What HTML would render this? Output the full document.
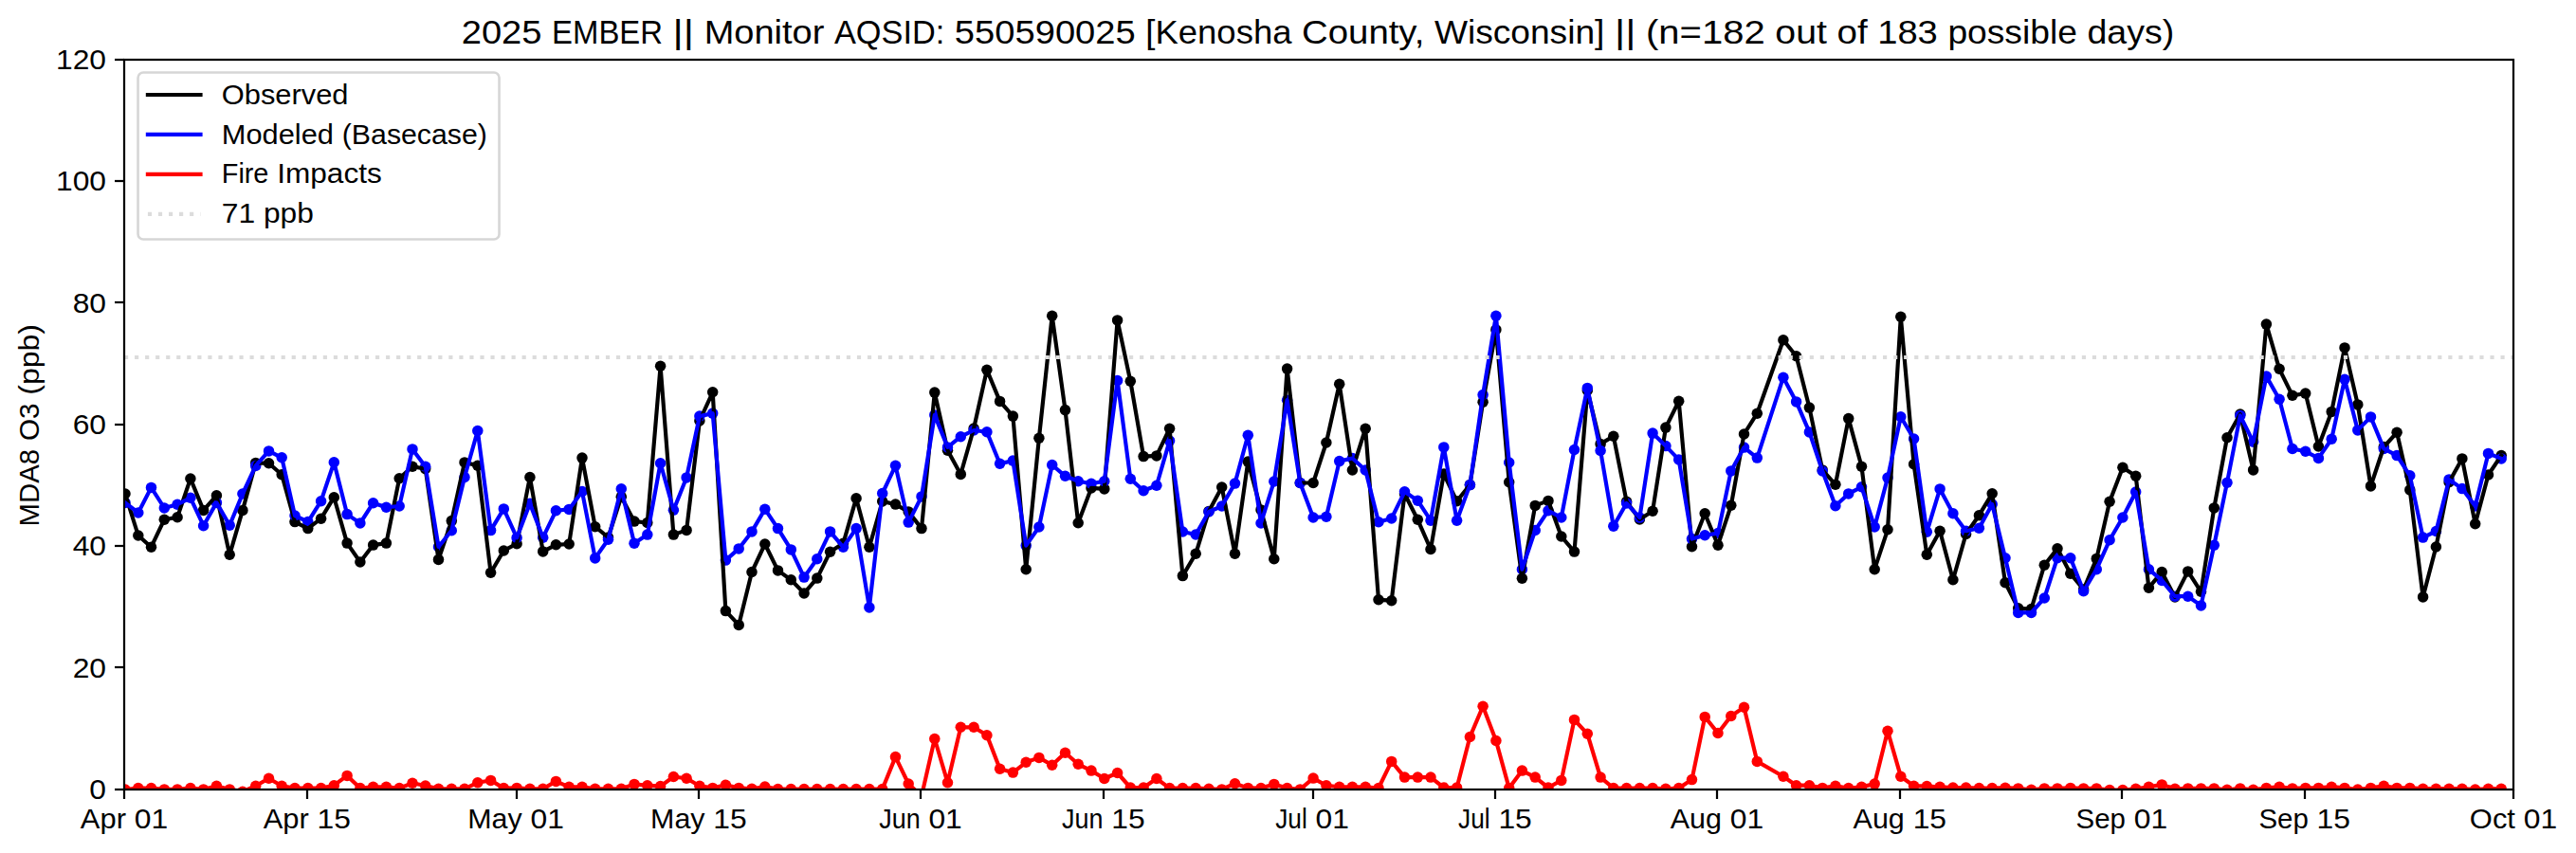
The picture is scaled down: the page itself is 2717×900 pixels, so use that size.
<!DOCTYPE html>
<html><head><meta charset="utf-8"><title>2025 EMBER Monitor 550590025</title>
<style>
html,body{margin:0;padding:0;background:#fff;}
body{width:2717px;height:900px;overflow:hidden;}
svg{display:block;font-family:"Liberation Sans", sans-serif;}
</style></head><body>
<svg width="2717" height="900" viewBox="0 0 2717 900">
<rect x="0" y="0" width="2717" height="900" fill="#ffffff"/>
<defs><clipPath id="ax"><rect x="131.0" y="63.0" width="2520.0" height="770.0"/></clipPath></defs>
<text x="486.70" y="46.00" font-size="35.4" textLength="84.82" lengthAdjust="spacingAndGlyphs">2025</text><text x="582.12" y="46.00" font-size="35.4" textLength="116.90" lengthAdjust="spacingAndGlyphs">EMBER</text><text x="709.61" y="46.00" font-size="35.4" textLength="22.46" lengthAdjust="spacingAndGlyphs">||</text><text x="742.67" y="46.00" font-size="35.4" textLength="126.70" lengthAdjust="spacingAndGlyphs">Monitor</text><text x="879.96" y="46.00" font-size="35.4" textLength="116.33" lengthAdjust="spacingAndGlyphs">AQSID:</text><text x="1006.88" y="46.00" font-size="35.4" textLength="190.85" lengthAdjust="spacingAndGlyphs">550590025</text><text x="1208.33" y="46.00" font-size="35.4" textLength="154.14" lengthAdjust="spacingAndGlyphs">[Kenosha</text><text x="1373.06" y="46.00" font-size="35.4" textLength="129.30" lengthAdjust="spacingAndGlyphs">County,</text><text x="1512.95" y="46.00" font-size="35.4" textLength="179.44" lengthAdjust="spacingAndGlyphs">Wisconsin]</text><text x="1702.99" y="46.00" font-size="35.4" textLength="22.46" lengthAdjust="spacingAndGlyphs">||</text><text x="1736.05" y="46.00" font-size="35.4" textLength="125.67" lengthAdjust="spacingAndGlyphs">(n=182</text><text x="1872.31" y="46.00" font-size="35.4" textLength="54.58" lengthAdjust="spacingAndGlyphs">out</text><text x="1937.49" y="46.00" font-size="35.4" textLength="32.13" lengthAdjust="spacingAndGlyphs">of</text><text x="1980.21" y="46.00" font-size="35.4" textLength="63.62" lengthAdjust="spacingAndGlyphs">183</text><text x="2054.42" y="46.00" font-size="35.4" textLength="136.46" lengthAdjust="spacingAndGlyphs">possible</text><text x="2201.48" y="46.00" font-size="35.4" textLength="91.67" lengthAdjust="spacingAndGlyphs">days)</text>
<g clip-path="url(#ax)">
<g fill="#000000"><circle cx="132.0" cy="521.0" r="5.75"/><circle cx="145.8" cy="565.0" r="5.75"/><circle cx="159.5" cy="577.2" r="5.75"/><circle cx="173.3" cy="548.2" r="5.75"/><circle cx="187.1" cy="545.7" r="5.75"/><circle cx="200.9" cy="505.0" r="5.75"/><circle cx="214.6" cy="538.4" r="5.75"/><circle cx="228.4" cy="522.8" r="5.75"/><circle cx="242.2" cy="585.3" r="5.75"/><circle cx="255.9" cy="538.4" r="5.75"/><circle cx="269.7" cy="488.4" r="5.75"/><circle cx="283.5" cy="488.8" r="5.75"/><circle cx="297.2" cy="500.8" r="5.75"/><circle cx="311.0" cy="550.6" r="5.75"/><circle cx="324.8" cy="557.6" r="5.75"/><circle cx="338.6" cy="547.2" r="5.75"/><circle cx="352.3" cy="524.7" r="5.75"/><circle cx="366.1" cy="573.1" r="5.75"/><circle cx="379.9" cy="593.0" r="5.75"/><circle cx="393.6" cy="575.1" r="5.75"/><circle cx="407.4" cy="573.1" r="5.75"/><circle cx="421.2" cy="504.7" r="5.75"/><circle cx="435.0" cy="492.3" r="5.75"/><circle cx="448.7" cy="494.6" r="5.75"/><circle cx="462.5" cy="590.4" r="5.75"/><circle cx="476.3" cy="549.6" r="5.75"/><circle cx="490.0" cy="487.9" r="5.75"/><circle cx="503.8" cy="491.2" r="5.75"/><circle cx="517.6" cy="604.2" r="5.75"/><circle cx="531.3" cy="581.0" r="5.75"/><circle cx="545.1" cy="573.7" r="5.75"/><circle cx="558.9" cy="503.5" r="5.75"/><circle cx="572.7" cy="581.9" r="5.75"/><circle cx="586.4" cy="574.8" r="5.75"/><circle cx="600.2" cy="574.0" r="5.75"/><circle cx="614.0" cy="483.1" r="5.75"/><circle cx="627.7" cy="555.7" r="5.75"/><circle cx="641.5" cy="567.0" r="5.75"/><circle cx="655.3" cy="524.2" r="5.75"/><circle cx="669.0" cy="550.1" r="5.75"/><circle cx="682.8" cy="551.5" r="5.75"/><circle cx="696.6" cy="386.3" r="5.75"/><circle cx="710.4" cy="564.1" r="5.75"/><circle cx="724.1" cy="559.4" r="5.75"/><circle cx="737.9" cy="444.0" r="5.75"/><circle cx="751.7" cy="413.8" r="5.75"/><circle cx="765.4" cy="644.6" r="5.75"/><circle cx="779.2" cy="659.4" r="5.75"/><circle cx="793.0" cy="603.5" r="5.75"/><circle cx="806.8" cy="574.0" r="5.75"/><circle cx="820.5" cy="601.9" r="5.75"/><circle cx="834.3" cy="611.8" r="5.75"/><circle cx="848.1" cy="625.9" r="5.75"/><circle cx="861.8" cy="610.1" r="5.75"/><circle cx="875.6" cy="582.2" r="5.75"/><circle cx="889.4" cy="573.3" r="5.75"/><circle cx="903.1" cy="525.7" r="5.75"/><circle cx="916.9" cy="577.3" r="5.75"/><circle cx="930.7" cy="529.0" r="5.75"/><circle cx="944.5" cy="532.1" r="5.75"/><circle cx="958.2" cy="539.9" r="5.75"/><circle cx="972.0" cy="557.6" r="5.75"/><circle cx="985.8" cy="414.1" r="5.75"/><circle cx="999.5" cy="475.3" r="5.75"/><circle cx="1013.3" cy="500.4" r="5.75"/><circle cx="1027.1" cy="452.0" r="5.75"/><circle cx="1040.9" cy="390.3" r="5.75"/><circle cx="1054.6" cy="423.4" r="5.75"/><circle cx="1068.4" cy="439.1" r="5.75"/><circle cx="1082.2" cy="600.7" r="5.75"/><circle cx="1095.9" cy="462.3" r="5.75"/><circle cx="1109.7" cy="333.2" r="5.75"/><circle cx="1123.5" cy="432.6" r="5.75"/><circle cx="1137.2" cy="551.7" r="5.75"/><circle cx="1151.0" cy="514.9" r="5.75"/><circle cx="1164.8" cy="515.9" r="5.75"/><circle cx="1178.6" cy="337.9" r="5.75"/><circle cx="1192.3" cy="402.2" r="5.75"/><circle cx="1206.1" cy="481.6" r="5.75"/><circle cx="1219.9" cy="480.9" r="5.75"/><circle cx="1233.6" cy="452.2" r="5.75"/><circle cx="1247.4" cy="607.6" r="5.75"/><circle cx="1261.2" cy="584.3" r="5.75"/><circle cx="1275.0" cy="539.4" r="5.75"/><circle cx="1288.7" cy="514.0" r="5.75"/><circle cx="1302.5" cy="584.3" r="5.75"/><circle cx="1316.3" cy="487.1" r="5.75"/><circle cx="1330.0" cy="537.9" r="5.75"/><circle cx="1343.8" cy="589.7" r="5.75"/><circle cx="1357.6" cy="389.1" r="5.75"/><circle cx="1371.3" cy="509.5" r="5.75"/><circle cx="1385.1" cy="509.5" r="5.75"/><circle cx="1398.9" cy="467.0" r="5.75"/><circle cx="1412.7" cy="405.2" r="5.75"/><circle cx="1426.4" cy="496.0" r="5.75"/><circle cx="1440.2" cy="452.2" r="5.75"/><circle cx="1454.0" cy="632.8" r="5.75"/><circle cx="1467.7" cy="633.7" r="5.75"/><circle cx="1481.5" cy="521.0" r="5.75"/><circle cx="1495.3" cy="548.3" r="5.75"/><circle cx="1509.0" cy="579.5" r="5.75"/><circle cx="1522.8" cy="500.0" r="5.75"/><circle cx="1536.6" cy="528.8" r="5.75"/><circle cx="1550.4" cy="511.6" r="5.75"/><circle cx="1564.1" cy="424.2" r="5.75"/><circle cx="1577.9" cy="347.9" r="5.75"/><circle cx="1591.7" cy="508.8" r="5.75"/><circle cx="1605.4" cy="610.3" r="5.75"/><circle cx="1619.2" cy="533.4" r="5.75"/><circle cx="1633.0" cy="528.4" r="5.75"/><circle cx="1646.8" cy="566.0" r="5.75"/><circle cx="1660.5" cy="582.1" r="5.75"/><circle cx="1674.3" cy="412.0" r="5.75"/><circle cx="1688.1" cy="468.4" r="5.75"/><circle cx="1701.8" cy="460.2" r="5.75"/><circle cx="1715.6" cy="529.2" r="5.75"/><circle cx="1729.4" cy="547.9" r="5.75"/><circle cx="1743.1" cy="539.3" r="5.75"/><circle cx="1756.9" cy="451.1" r="5.75"/><circle cx="1770.7" cy="423.3" r="5.75"/><circle cx="1784.5" cy="576.7" r="5.75"/><circle cx="1798.2" cy="541.7" r="5.75"/><circle cx="1812.0" cy="575.2" r="5.75"/><circle cx="1825.8" cy="533.3" r="5.75"/><circle cx="1839.5" cy="458.0" r="5.75"/><circle cx="1853.3" cy="436.2" r="5.75"/><circle cx="1880.9" cy="358.8" r="5.75"/><circle cx="1894.6" cy="375.7" r="5.75"/><circle cx="1908.4" cy="430.1" r="5.75"/><circle cx="1922.2" cy="495.9" r="5.75"/><circle cx="1935.9" cy="511.3" r="5.75"/><circle cx="1949.7" cy="441.6" r="5.75"/><circle cx="1963.5" cy="492.3" r="5.75"/><circle cx="1977.2" cy="600.7" r="5.75"/><circle cx="1991.0" cy="558.8" r="5.75"/><circle cx="2004.8" cy="334.3" r="5.75"/><circle cx="2018.6" cy="489.8" r="5.75"/><circle cx="2032.3" cy="585.3" r="5.75"/><circle cx="2046.1" cy="560.3" r="5.75"/><circle cx="2059.9" cy="611.7" r="5.75"/><circle cx="2073.6" cy="563.5" r="5.75"/><circle cx="2087.4" cy="543.7" r="5.75"/><circle cx="2101.2" cy="520.8" r="5.75"/><circle cx="2115.0" cy="614.8" r="5.75"/><circle cx="2128.7" cy="641.8" r="5.75"/><circle cx="2142.5" cy="642.5" r="5.75"/><circle cx="2156.3" cy="596.2" r="5.75"/><circle cx="2170.0" cy="578.8" r="5.75"/><circle cx="2183.8" cy="605.2" r="5.75"/><circle cx="2197.6" cy="622.0" r="5.75"/><circle cx="2211.3" cy="589.4" r="5.75"/><circle cx="2225.1" cy="529.3" r="5.75"/><circle cx="2238.9" cy="493.3" r="5.75"/><circle cx="2252.7" cy="502.3" r="5.75"/><circle cx="2266.4" cy="620.2" r="5.75"/><circle cx="2280.2" cy="603.6" r="5.75"/><circle cx="2294.0" cy="629.9" r="5.75"/><circle cx="2307.7" cy="602.9" r="5.75"/><circle cx="2321.5" cy="624.3" r="5.75"/><circle cx="2335.3" cy="535.9" r="5.75"/><circle cx="2349.0" cy="461.7" r="5.75"/><circle cx="2362.8" cy="437.0" r="5.75"/><circle cx="2376.6" cy="495.9" r="5.75"/><circle cx="2390.4" cy="342.1" r="5.75"/><circle cx="2404.1" cy="389.3" r="5.75"/><circle cx="2417.9" cy="417.3" r="5.75"/><circle cx="2431.7" cy="415.1" r="5.75"/><circle cx="2445.4" cy="471.0" r="5.75"/><circle cx="2459.2" cy="434.4" r="5.75"/><circle cx="2473.0" cy="366.9" r="5.75"/><circle cx="2486.8" cy="426.9" r="5.75"/><circle cx="2500.5" cy="512.9" r="5.75"/><circle cx="2514.3" cy="471.5" r="5.75"/><circle cx="2528.1" cy="456.3" r="5.75"/><circle cx="2541.8" cy="516.9" r="5.75"/><circle cx="2555.6" cy="629.9" r="5.75"/><circle cx="2569.4" cy="577.0" r="5.75"/><circle cx="2583.1" cy="508.7" r="5.75"/><circle cx="2596.9" cy="483.9" r="5.75"/><circle cx="2610.7" cy="552.7" r="5.75"/><circle cx="2624.5" cy="501.0" r="5.75"/><circle cx="2638.2" cy="480.6" r="5.75"/></g>
<g fill="#0000ff"><circle cx="132.0" cy="530.4" r="5.75"/><circle cx="145.8" cy="541.0" r="5.75"/><circle cx="159.5" cy="514.4" r="5.75"/><circle cx="173.3" cy="536.0" r="5.75"/><circle cx="187.1" cy="532.2" r="5.75"/><circle cx="200.9" cy="525.3" r="5.75"/><circle cx="214.6" cy="554.7" r="5.75"/><circle cx="228.4" cy="530.4" r="5.75"/><circle cx="242.2" cy="554.2" r="5.75"/><circle cx="255.9" cy="521.0" r="5.75"/><circle cx="269.7" cy="491.4" r="5.75"/><circle cx="283.5" cy="475.9" r="5.75"/><circle cx="297.2" cy="482.8" r="5.75"/><circle cx="311.0" cy="544.0" r="5.75"/><circle cx="324.8" cy="550.6" r="5.75"/><circle cx="338.6" cy="528.7" r="5.75"/><circle cx="352.3" cy="487.8" r="5.75"/><circle cx="366.1" cy="542.6" r="5.75"/><circle cx="379.9" cy="552.0" r="5.75"/><circle cx="393.6" cy="530.7" r="5.75"/><circle cx="407.4" cy="535.3" r="5.75"/><circle cx="421.2" cy="534.0" r="5.75"/><circle cx="435.0" cy="473.9" r="5.75"/><circle cx="448.7" cy="492.3" r="5.75"/><circle cx="462.5" cy="577.0" r="5.75"/><circle cx="476.3" cy="559.8" r="5.75"/><circle cx="490.0" cy="503.5" r="5.75"/><circle cx="503.8" cy="454.5" r="5.75"/><circle cx="517.6" cy="559.6" r="5.75"/><circle cx="531.3" cy="536.9" r="5.75"/><circle cx="545.1" cy="567.4" r="5.75"/><circle cx="558.9" cy="531.3" r="5.75"/><circle cx="572.7" cy="567.2" r="5.75"/><circle cx="586.4" cy="538.8" r="5.75"/><circle cx="600.2" cy="537.4" r="5.75"/><circle cx="614.0" cy="518.6" r="5.75"/><circle cx="627.7" cy="588.9" r="5.75"/><circle cx="641.5" cy="569.2" r="5.75"/><circle cx="655.3" cy="515.8" r="5.75"/><circle cx="669.0" cy="573.2" r="5.75"/><circle cx="682.8" cy="564.1" r="5.75"/><circle cx="696.6" cy="488.7" r="5.75"/><circle cx="710.4" cy="538.3" r="5.75"/><circle cx="724.1" cy="503.9" r="5.75"/><circle cx="737.9" cy="439.1" r="5.75"/><circle cx="751.7" cy="436.1" r="5.75"/><circle cx="765.4" cy="591.1" r="5.75"/><circle cx="779.2" cy="578.9" r="5.75"/><circle cx="793.0" cy="560.9" r="5.75"/><circle cx="806.8" cy="537.2" r="5.75"/><circle cx="820.5" cy="557.6" r="5.75"/><circle cx="834.3" cy="579.9" r="5.75"/><circle cx="848.1" cy="609.1" r="5.75"/><circle cx="861.8" cy="589.8" r="5.75"/><circle cx="875.6" cy="560.9" r="5.75"/><circle cx="889.4" cy="577.3" r="5.75"/><circle cx="903.1" cy="557.6" r="5.75"/><circle cx="916.9" cy="640.9" r="5.75"/><circle cx="930.7" cy="520.5" r="5.75"/><circle cx="944.5" cy="491.3" r="5.75"/><circle cx="958.2" cy="551.1" r="5.75"/><circle cx="972.0" cy="523.9" r="5.75"/><circle cx="985.8" cy="437.9" r="5.75"/><circle cx="999.5" cy="471.9" r="5.75"/><circle cx="1013.3" cy="460.7" r="5.75"/><circle cx="1027.1" cy="454.0" r="5.75"/><circle cx="1040.9" cy="455.8" r="5.75"/><circle cx="1054.6" cy="489.3" r="5.75"/><circle cx="1068.4" cy="486.1" r="5.75"/><circle cx="1082.2" cy="575.6" r="5.75"/><circle cx="1095.9" cy="556.0" r="5.75"/><circle cx="1109.7" cy="490.5" r="5.75"/><circle cx="1123.5" cy="502.3" r="5.75"/><circle cx="1137.2" cy="507.7" r="5.75"/><circle cx="1151.0" cy="510.2" r="5.75"/><circle cx="1164.8" cy="507.7" r="5.75"/><circle cx="1178.6" cy="401.5" r="5.75"/><circle cx="1192.3" cy="505.2" r="5.75"/><circle cx="1206.1" cy="517.7" r="5.75"/><circle cx="1219.9" cy="512.3" r="5.75"/><circle cx="1233.6" cy="465.1" r="5.75"/><circle cx="1247.4" cy="561.0" r="5.75"/><circle cx="1261.2" cy="564.0" r="5.75"/><circle cx="1275.0" cy="540.0" r="5.75"/><circle cx="1288.7" cy="534.0" r="5.75"/><circle cx="1302.5" cy="510.1" r="5.75"/><circle cx="1316.3" cy="459.3" r="5.75"/><circle cx="1330.0" cy="552.0" r="5.75"/><circle cx="1343.8" cy="508.0" r="5.75"/><circle cx="1357.6" cy="422.2" r="5.75"/><circle cx="1371.3" cy="509.5" r="5.75"/><circle cx="1385.1" cy="546.0" r="5.75"/><circle cx="1398.9" cy="545.2" r="5.75"/><circle cx="1412.7" cy="486.6" r="5.75"/><circle cx="1426.4" cy="483.5" r="5.75"/><circle cx="1440.2" cy="496.0" r="5.75"/><circle cx="1454.0" cy="550.8" r="5.75"/><circle cx="1467.7" cy="547.0" r="5.75"/><circle cx="1481.5" cy="518.8" r="5.75"/><circle cx="1495.3" cy="528.2" r="5.75"/><circle cx="1509.0" cy="549.2" r="5.75"/><circle cx="1522.8" cy="471.9" r="5.75"/><circle cx="1536.6" cy="549.2" r="5.75"/><circle cx="1550.4" cy="511.6" r="5.75"/><circle cx="1564.1" cy="416.6" r="5.75"/><circle cx="1577.9" cy="333.2" r="5.75"/><circle cx="1591.7" cy="488.0" r="5.75"/><circle cx="1605.4" cy="600.7" r="5.75"/><circle cx="1619.2" cy="559.5" r="5.75"/><circle cx="1633.0" cy="538.8" r="5.75"/><circle cx="1646.8" cy="546.0" r="5.75"/><circle cx="1660.5" cy="474.5" r="5.75"/><circle cx="1674.3" cy="409.4" r="5.75"/><circle cx="1688.1" cy="475.5" r="5.75"/><circle cx="1701.8" cy="555.3" r="5.75"/><circle cx="1715.6" cy="531.0" r="5.75"/><circle cx="1729.4" cy="546.1" r="5.75"/><circle cx="1743.1" cy="457.1" r="5.75"/><circle cx="1756.9" cy="470.6" r="5.75"/><circle cx="1770.7" cy="484.9" r="5.75"/><circle cx="1784.5" cy="568.6" r="5.75"/><circle cx="1798.2" cy="564.7" r="5.75"/><circle cx="1812.0" cy="562.6" r="5.75"/><circle cx="1825.8" cy="496.9" r="5.75"/><circle cx="1839.5" cy="472.1" r="5.75"/><circle cx="1853.3" cy="483.1" r="5.75"/><circle cx="1880.9" cy="398.2" r="5.75"/><circle cx="1894.6" cy="423.9" r="5.75"/><circle cx="1908.4" cy="455.9" r="5.75"/><circle cx="1922.2" cy="497.0" r="5.75"/><circle cx="1935.9" cy="533.8" r="5.75"/><circle cx="1949.7" cy="520.9" r="5.75"/><circle cx="1963.5" cy="513.8" r="5.75"/><circle cx="1977.2" cy="556.0" r="5.75"/><circle cx="1991.0" cy="504.1" r="5.75"/><circle cx="2004.8" cy="439.8" r="5.75"/><circle cx="2018.6" cy="463.0" r="5.75"/><circle cx="2032.3" cy="561.3" r="5.75"/><circle cx="2046.1" cy="515.9" r="5.75"/><circle cx="2059.9" cy="541.7" r="5.75"/><circle cx="2073.6" cy="560.2" r="5.75"/><circle cx="2087.4" cy="557.2" r="5.75"/><circle cx="2101.2" cy="532.0" r="5.75"/><circle cx="2115.0" cy="588.7" r="5.75"/><circle cx="2128.7" cy="646.4" r="5.75"/><circle cx="2142.5" cy="646.4" r="5.75"/><circle cx="2156.3" cy="631.0" r="5.75"/><circle cx="2170.0" cy="588.7" r="5.75"/><circle cx="2183.8" cy="588.7" r="5.75"/><circle cx="2197.6" cy="623.8" r="5.75"/><circle cx="2211.3" cy="600.7" r="5.75"/><circle cx="2225.1" cy="569.8" r="5.75"/><circle cx="2238.9" cy="546.0" r="5.75"/><circle cx="2252.7" cy="519.0" r="5.75"/><circle cx="2266.4" cy="600.7" r="5.75"/><circle cx="2280.2" cy="612.4" r="5.75"/><circle cx="2294.0" cy="629.2" r="5.75"/><circle cx="2307.7" cy="629.2" r="5.75"/><circle cx="2321.5" cy="638.9" r="5.75"/><circle cx="2335.3" cy="575.2" r="5.75"/><circle cx="2349.0" cy="509.2" r="5.75"/><circle cx="2362.8" cy="438.4" r="5.75"/><circle cx="2376.6" cy="466.3" r="5.75"/><circle cx="2390.4" cy="397.1" r="5.75"/><circle cx="2404.1" cy="421.3" r="5.75"/><circle cx="2417.9" cy="473.5" r="5.75"/><circle cx="2431.7" cy="476.3" r="5.75"/><circle cx="2445.4" cy="483.4" r="5.75"/><circle cx="2459.2" cy="463.2" r="5.75"/><circle cx="2473.0" cy="400.2" r="5.75"/><circle cx="2486.8" cy="453.9" r="5.75"/><circle cx="2500.5" cy="439.9" r="5.75"/><circle cx="2514.3" cy="473.4" r="5.75"/><circle cx="2528.1" cy="480.6" r="5.75"/><circle cx="2541.8" cy="501.8" r="5.75"/><circle cx="2555.6" cy="567.1" r="5.75"/><circle cx="2569.4" cy="560.5" r="5.75"/><circle cx="2583.1" cy="505.9" r="5.75"/><circle cx="2596.9" cy="515.6" r="5.75"/><circle cx="2610.7" cy="534.0" r="5.75"/><circle cx="2624.5" cy="478.4" r="5.75"/><circle cx="2638.2" cy="483.9" r="5.75"/></g>
<g fill="#ff0000"><circle cx="132.0" cy="833.0" r="5.75"/><circle cx="145.8" cy="831.6" r="5.75"/><circle cx="159.5" cy="831.6" r="5.75"/><circle cx="173.3" cy="832.9" r="5.75"/><circle cx="187.1" cy="832.9" r="5.75"/><circle cx="200.9" cy="831.6" r="5.75"/><circle cx="214.6" cy="832.9" r="5.75"/><circle cx="228.4" cy="829.2" r="5.75"/><circle cx="242.2" cy="832.9" r="5.75"/><circle cx="255.9" cy="835.2" r="5.75"/><circle cx="269.7" cy="829.2" r="5.75"/><circle cx="283.5" cy="821.3" r="5.75"/><circle cx="297.2" cy="829.2" r="5.75"/><circle cx="311.0" cy="831.6" r="5.75"/><circle cx="324.8" cy="831.6" r="5.75"/><circle cx="338.6" cy="831.6" r="5.75"/><circle cx="352.3" cy="828.7" r="5.75"/><circle cx="366.1" cy="818.4" r="5.75"/><circle cx="379.9" cy="831.6" r="5.75"/><circle cx="393.6" cy="830.3" r="5.75"/><circle cx="407.4" cy="830.3" r="5.75"/><circle cx="421.2" cy="831.6" r="5.75"/><circle cx="435.0" cy="826.3" r="5.75"/><circle cx="448.7" cy="829.0" r="5.75"/><circle cx="462.5" cy="832.3" r="5.75"/><circle cx="476.3" cy="832.3" r="5.75"/><circle cx="490.0" cy="832.3" r="5.75"/><circle cx="503.8" cy="825.7" r="5.75"/><circle cx="517.6" cy="823.4" r="5.75"/><circle cx="531.3" cy="831.6" r="5.75"/><circle cx="545.1" cy="831.4" r="5.75"/><circle cx="558.9" cy="832.3" r="5.75"/><circle cx="572.7" cy="832.3" r="5.75"/><circle cx="586.4" cy="824.4" r="5.75"/><circle cx="600.2" cy="830.3" r="5.75"/><circle cx="614.0" cy="830.3" r="5.75"/><circle cx="627.7" cy="832.3" r="5.75"/><circle cx="641.5" cy="832.3" r="5.75"/><circle cx="655.3" cy="832.3" r="5.75"/><circle cx="669.0" cy="827.4" r="5.75"/><circle cx="682.8" cy="828.7" r="5.75"/><circle cx="696.6" cy="829.6" r="5.75"/><circle cx="710.4" cy="819.5" r="5.75"/><circle cx="724.1" cy="821.3" r="5.75"/><circle cx="737.9" cy="829.2" r="5.75"/><circle cx="751.7" cy="831.4" r="5.75"/><circle cx="765.4" cy="828.3" r="5.75"/><circle cx="779.2" cy="831.4" r="5.75"/><circle cx="793.0" cy="832.3" r="5.75"/><circle cx="806.8" cy="830.0" r="5.75"/><circle cx="820.5" cy="832.5" r="5.75"/><circle cx="834.3" cy="832.5" r="5.75"/><circle cx="848.1" cy="832.5" r="5.75"/><circle cx="861.8" cy="832.5" r="5.75"/><circle cx="875.6" cy="832.5" r="5.75"/><circle cx="889.4" cy="832.5" r="5.75"/><circle cx="903.1" cy="832.5" r="5.75"/><circle cx="916.9" cy="832.5" r="5.75"/><circle cx="930.7" cy="832.5" r="5.75"/><circle cx="944.5" cy="798.6" r="5.75"/><circle cx="958.2" cy="827.0" r="5.75"/><circle cx="972.0" cy="840.0" r="5.75"/><circle cx="985.8" cy="779.5" r="5.75"/><circle cx="999.5" cy="825.7" r="5.75"/><circle cx="1013.3" cy="767.3" r="5.75"/><circle cx="1027.1" cy="767.3" r="5.75"/><circle cx="1040.9" cy="775.7" r="5.75"/><circle cx="1054.6" cy="811.3" r="5.75"/><circle cx="1068.4" cy="815.1" r="5.75"/><circle cx="1082.2" cy="804.3" r="5.75"/><circle cx="1095.9" cy="799.4" r="5.75"/><circle cx="1109.7" cy="807.2" r="5.75"/><circle cx="1123.5" cy="794.2" r="5.75"/><circle cx="1137.2" cy="806.3" r="5.75"/><circle cx="1151.0" cy="813.1" r="5.75"/><circle cx="1164.8" cy="821.5" r="5.75"/><circle cx="1178.6" cy="815.5" r="5.75"/><circle cx="1192.3" cy="831.0" r="5.75"/><circle cx="1206.1" cy="831.0" r="5.75"/><circle cx="1219.9" cy="821.5" r="5.75"/><circle cx="1233.6" cy="831.6" r="5.75"/><circle cx="1247.4" cy="831.6" r="5.75"/><circle cx="1261.2" cy="831.6" r="5.75"/><circle cx="1275.0" cy="832.3" r="5.75"/><circle cx="1288.7" cy="832.9" r="5.75"/><circle cx="1302.5" cy="826.7" r="5.75"/><circle cx="1316.3" cy="831.4" r="5.75"/><circle cx="1330.0" cy="831.6" r="5.75"/><circle cx="1343.8" cy="827.4" r="5.75"/><circle cx="1357.6" cy="831.6" r="5.75"/><circle cx="1371.3" cy="832.9" r="5.75"/><circle cx="1385.1" cy="821.1" r="5.75"/><circle cx="1398.9" cy="828.7" r="5.75"/><circle cx="1412.7" cy="830.3" r="5.75"/><circle cx="1426.4" cy="830.3" r="5.75"/><circle cx="1440.2" cy="830.3" r="5.75"/><circle cx="1454.0" cy="831.5" r="5.75"/><circle cx="1467.7" cy="803.4" r="5.75"/><circle cx="1481.5" cy="820.1" r="5.75"/><circle cx="1495.3" cy="820.1" r="5.75"/><circle cx="1509.0" cy="820.1" r="5.75"/><circle cx="1522.8" cy="831.0" r="5.75"/><circle cx="1536.6" cy="831.0" r="5.75"/><circle cx="1550.4" cy="777.5" r="5.75"/><circle cx="1564.1" cy="745.3" r="5.75"/><circle cx="1577.9" cy="781.5" r="5.75"/><circle cx="1591.7" cy="831.6" r="5.75"/><circle cx="1605.4" cy="813.1" r="5.75"/><circle cx="1619.2" cy="820.1" r="5.75"/><circle cx="1633.0" cy="831.0" r="5.75"/><circle cx="1646.8" cy="823.4" r="5.75"/><circle cx="1660.5" cy="759.4" r="5.75"/><circle cx="1674.3" cy="774.3" r="5.75"/><circle cx="1688.1" cy="820.1" r="5.75"/><circle cx="1701.8" cy="831.6" r="5.75"/><circle cx="1715.6" cy="831.6" r="5.75"/><circle cx="1729.4" cy="831.6" r="5.75"/><circle cx="1743.1" cy="831.6" r="5.75"/><circle cx="1756.9" cy="832.3" r="5.75"/><circle cx="1770.7" cy="831.6" r="5.75"/><circle cx="1784.5" cy="822.6" r="5.75"/><circle cx="1798.2" cy="756.4" r="5.75"/><circle cx="1812.0" cy="773.5" r="5.75"/><circle cx="1825.8" cy="755.5" r="5.75"/><circle cx="1839.5" cy="746.2" r="5.75"/><circle cx="1853.3" cy="803.4" r="5.75"/><circle cx="1880.9" cy="819.2" r="5.75"/><circle cx="1894.6" cy="828.7" r="5.75"/><circle cx="1908.4" cy="828.7" r="5.75"/><circle cx="1922.2" cy="831.4" r="5.75"/><circle cx="1935.9" cy="829.2" r="5.75"/><circle cx="1949.7" cy="831.6" r="5.75"/><circle cx="1963.5" cy="830.3" r="5.75"/><circle cx="1977.2" cy="827.1" r="5.75"/><circle cx="1991.0" cy="771.3" r="5.75"/><circle cx="2004.8" cy="819.2" r="5.75"/><circle cx="2018.6" cy="829.2" r="5.75"/><circle cx="2032.3" cy="829.6" r="5.75"/><circle cx="2046.1" cy="830.3" r="5.75"/><circle cx="2059.9" cy="831.0" r="5.75"/><circle cx="2073.6" cy="831.0" r="5.75"/><circle cx="2087.4" cy="831.6" r="5.75"/><circle cx="2101.2" cy="831.6" r="5.75"/><circle cx="2115.0" cy="831.2" r="5.75"/><circle cx="2128.7" cy="831.9" r="5.75"/><circle cx="2142.5" cy="833.2" r="5.75"/><circle cx="2156.3" cy="831.9" r="5.75"/><circle cx="2170.0" cy="831.9" r="5.75"/><circle cx="2183.8" cy="831.4" r="5.75"/><circle cx="2197.6" cy="831.9" r="5.75"/><circle cx="2211.3" cy="831.9" r="5.75"/><circle cx="2225.1" cy="833.6" r="5.75"/><circle cx="2238.9" cy="833.6" r="5.75"/><circle cx="2252.7" cy="832.3" r="5.75"/><circle cx="2266.4" cy="830.3" r="5.75"/><circle cx="2280.2" cy="827.9" r="5.75"/><circle cx="2294.0" cy="832.3" r="5.75"/><circle cx="2307.7" cy="831.9" r="5.75"/><circle cx="2321.5" cy="831.9" r="5.75"/><circle cx="2335.3" cy="831.9" r="5.75"/><circle cx="2349.0" cy="833.2" r="5.75"/><circle cx="2362.8" cy="831.9" r="5.75"/><circle cx="2376.6" cy="833.2" r="5.75"/><circle cx="2390.4" cy="831.4" r="5.75"/><circle cx="2404.1" cy="830.3" r="5.75"/><circle cx="2417.9" cy="831.9" r="5.75"/><circle cx="2431.7" cy="831.4" r="5.75"/><circle cx="2445.4" cy="831.4" r="5.75"/><circle cx="2459.2" cy="830.2" r="5.75"/><circle cx="2473.0" cy="831.4" r="5.75"/><circle cx="2486.8" cy="833.1" r="5.75"/><circle cx="2500.5" cy="831.4" r="5.75"/><circle cx="2514.3" cy="829.2" r="5.75"/><circle cx="2528.1" cy="831.4" r="5.75"/><circle cx="2541.8" cy="831.4" r="5.75"/><circle cx="2555.6" cy="832.2" r="5.75"/><circle cx="2569.4" cy="832.2" r="5.75"/><circle cx="2583.1" cy="832.2" r="5.75"/><circle cx="2596.9" cy="832.2" r="5.75"/><circle cx="2610.7" cy="833.1" r="5.75"/><circle cx="2624.5" cy="832.2" r="5.75"/><circle cx="2638.2" cy="832.2" r="5.75"/></g>
<path d="M132.0,521.0 L145.8,565.0 L159.5,577.2 L173.3,548.2 L187.1,545.7 L200.9,505.0 L214.6,538.4 L228.4,522.8 L242.2,585.3 L255.9,538.4 L269.7,488.4 L283.5,488.8 L297.2,500.8 L311.0,550.6 L324.8,557.6 L338.6,547.2 L352.3,524.7 L366.1,573.1 L379.9,593.0 L393.6,575.1 L407.4,573.1 L421.2,504.7 L435.0,492.3 L448.7,494.6 L462.5,590.4 L476.3,549.6 L490.0,487.9 L503.8,491.2 L517.6,604.2 L531.3,581.0 L545.1,573.7 L558.9,503.5 L572.7,581.9 L586.4,574.8 L600.2,574.0 L614.0,483.1 L627.7,555.7 L641.5,567.0 L655.3,524.2 L669.0,550.1 L682.8,551.5 L696.6,386.3 L710.4,564.1 L724.1,559.4 L737.9,444.0 L751.7,413.8 L765.4,644.6 L779.2,659.4 L793.0,603.5 L806.8,574.0 L820.5,601.9 L834.3,611.8 L848.1,625.9 L861.8,610.1 L875.6,582.2 L889.4,573.3 L903.1,525.7 L916.9,577.3 L930.7,529.0 L944.5,532.1 L958.2,539.9 L972.0,557.6 L985.8,414.1 L999.5,475.3 L1013.3,500.4 L1027.1,452.0 L1040.9,390.3 L1054.6,423.4 L1068.4,439.1 L1082.2,600.7 L1095.9,462.3 L1109.7,333.2 L1123.5,432.6 L1137.2,551.7 L1151.0,514.9 L1164.8,515.9 L1178.6,337.9 L1192.3,402.2 L1206.1,481.6 L1219.9,480.9 L1233.6,452.2 L1247.4,607.6 L1261.2,584.3 L1275.0,539.4 L1288.7,514.0 L1302.5,584.3 L1316.3,487.1 L1330.0,537.9 L1343.8,589.7 L1357.6,389.1 L1371.3,509.5 L1385.1,509.5 L1398.9,467.0 L1412.7,405.2 L1426.4,496.0 L1440.2,452.2 L1454.0,632.8 L1467.7,633.7 L1481.5,521.0 L1495.3,548.3 L1509.0,579.5 L1522.8,500.0 L1536.6,528.8 L1550.4,511.6 L1564.1,424.2 L1577.9,347.9 L1591.7,508.8 L1605.4,610.3 L1619.2,533.4 L1633.0,528.4 L1646.8,566.0 L1660.5,582.1 L1674.3,412.0 L1688.1,468.4 L1701.8,460.2 L1715.6,529.2 L1729.4,547.9 L1743.1,539.3 L1756.9,451.1 L1770.7,423.3 L1784.5,576.7 L1798.2,541.7 L1812.0,575.2 L1825.8,533.3 L1839.5,458.0 L1853.3,436.2 L1880.9,358.8 L1894.6,375.7 L1908.4,430.1 L1922.2,495.9 L1935.9,511.3 L1949.7,441.6 L1963.5,492.3 L1977.2,600.7 L1991.0,558.8 L2004.8,334.3 L2018.6,489.8 L2032.3,585.3 L2046.1,560.3 L2059.9,611.7 L2073.6,563.5 L2087.4,543.7 L2101.2,520.8 L2115.0,614.8 L2128.7,641.8 L2142.5,642.5 L2156.3,596.2 L2170.0,578.8 L2183.8,605.2 L2197.6,622.0 L2211.3,589.4 L2225.1,529.3 L2238.9,493.3 L2252.7,502.3 L2266.4,620.2 L2280.2,603.6 L2294.0,629.9 L2307.7,602.9 L2321.5,624.3 L2335.3,535.9 L2349.0,461.7 L2362.8,437.0 L2376.6,495.9 L2390.4,342.1 L2404.1,389.3 L2417.9,417.3 L2431.7,415.1 L2445.4,471.0 L2459.2,434.4 L2473.0,366.9 L2486.8,426.9 L2500.5,512.9 L2514.3,471.5 L2528.1,456.3 L2541.8,516.9 L2555.6,629.9 L2569.4,577.0 L2583.1,508.7 L2596.9,483.9 L2610.7,552.7 L2624.5,501.0 L2638.2,480.6" fill="none" stroke="#000000" stroke-width="4.1667" stroke-linejoin="round" stroke-linecap="square"/>
<path d="M132.0,530.4 L145.8,541.0 L159.5,514.4 L173.3,536.0 L187.1,532.2 L200.9,525.3 L214.6,554.7 L228.4,530.4 L242.2,554.2 L255.9,521.0 L269.7,491.4 L283.5,475.9 L297.2,482.8 L311.0,544.0 L324.8,550.6 L338.6,528.7 L352.3,487.8 L366.1,542.6 L379.9,552.0 L393.6,530.7 L407.4,535.3 L421.2,534.0 L435.0,473.9 L448.7,492.3 L462.5,577.0 L476.3,559.8 L490.0,503.5 L503.8,454.5 L517.6,559.6 L531.3,536.9 L545.1,567.4 L558.9,531.3 L572.7,567.2 L586.4,538.8 L600.2,537.4 L614.0,518.6 L627.7,588.9 L641.5,569.2 L655.3,515.8 L669.0,573.2 L682.8,564.1 L696.6,488.7 L710.4,538.3 L724.1,503.9 L737.9,439.1 L751.7,436.1 L765.4,591.1 L779.2,578.9 L793.0,560.9 L806.8,537.2 L820.5,557.6 L834.3,579.9 L848.1,609.1 L861.8,589.8 L875.6,560.9 L889.4,577.3 L903.1,557.6 L916.9,640.9 L930.7,520.5 L944.5,491.3 L958.2,551.1 L972.0,523.9 L985.8,437.9 L999.5,471.9 L1013.3,460.7 L1027.1,454.0 L1040.9,455.8 L1054.6,489.3 L1068.4,486.1 L1082.2,575.6 L1095.9,556.0 L1109.7,490.5 L1123.5,502.3 L1137.2,507.7 L1151.0,510.2 L1164.8,507.7 L1178.6,401.5 L1192.3,505.2 L1206.1,517.7 L1219.9,512.3 L1233.6,465.1 L1247.4,561.0 L1261.2,564.0 L1275.0,540.0 L1288.7,534.0 L1302.5,510.1 L1316.3,459.3 L1330.0,552.0 L1343.8,508.0 L1357.6,422.2 L1371.3,509.5 L1385.1,546.0 L1398.9,545.2 L1412.7,486.6 L1426.4,483.5 L1440.2,496.0 L1454.0,550.8 L1467.7,547.0 L1481.5,518.8 L1495.3,528.2 L1509.0,549.2 L1522.8,471.9 L1536.6,549.2 L1550.4,511.6 L1564.1,416.6 L1577.9,333.2 L1591.7,488.0 L1605.4,600.7 L1619.2,559.5 L1633.0,538.8 L1646.8,546.0 L1660.5,474.5 L1674.3,409.4 L1688.1,475.5 L1701.8,555.3 L1715.6,531.0 L1729.4,546.1 L1743.1,457.1 L1756.9,470.6 L1770.7,484.9 L1784.5,568.6 L1798.2,564.7 L1812.0,562.6 L1825.8,496.9 L1839.5,472.1 L1853.3,483.1 L1880.9,398.2 L1894.6,423.9 L1908.4,455.9 L1922.2,497.0 L1935.9,533.8 L1949.7,520.9 L1963.5,513.8 L1977.2,556.0 L1991.0,504.1 L2004.8,439.8 L2018.6,463.0 L2032.3,561.3 L2046.1,515.9 L2059.9,541.7 L2073.6,560.2 L2087.4,557.2 L2101.2,532.0 L2115.0,588.7 L2128.7,646.4 L2142.5,646.4 L2156.3,631.0 L2170.0,588.7 L2183.8,588.7 L2197.6,623.8 L2211.3,600.7 L2225.1,569.8 L2238.9,546.0 L2252.7,519.0 L2266.4,600.7 L2280.2,612.4 L2294.0,629.2 L2307.7,629.2 L2321.5,638.9 L2335.3,575.2 L2349.0,509.2 L2362.8,438.4 L2376.6,466.3 L2390.4,397.1 L2404.1,421.3 L2417.9,473.5 L2431.7,476.3 L2445.4,483.4 L2459.2,463.2 L2473.0,400.2 L2486.8,453.9 L2500.5,439.9 L2514.3,473.4 L2528.1,480.6 L2541.8,501.8 L2555.6,567.1 L2569.4,560.5 L2583.1,505.9 L2596.9,515.6 L2610.7,534.0 L2624.5,478.4 L2638.2,483.9" fill="none" stroke="#0000ff" stroke-width="4.1667" stroke-linejoin="round" stroke-linecap="square"/>
<path d="M132.0,833.0 L145.8,831.6 L159.5,831.6 L173.3,832.9 L187.1,832.9 L200.9,831.6 L214.6,832.9 L228.4,829.2 L242.2,832.9 L255.9,835.2 L269.7,829.2 L283.5,821.3 L297.2,829.2 L311.0,831.6 L324.8,831.6 L338.6,831.6 L352.3,828.7 L366.1,818.4 L379.9,831.6 L393.6,830.3 L407.4,830.3 L421.2,831.6 L435.0,826.3 L448.7,829.0 L462.5,832.3 L476.3,832.3 L490.0,832.3 L503.8,825.7 L517.6,823.4 L531.3,831.6 L545.1,831.4 L558.9,832.3 L572.7,832.3 L586.4,824.4 L600.2,830.3 L614.0,830.3 L627.7,832.3 L641.5,832.3 L655.3,832.3 L669.0,827.4 L682.8,828.7 L696.6,829.6 L710.4,819.5 L724.1,821.3 L737.9,829.2 L751.7,831.4 L765.4,828.3 L779.2,831.4 L793.0,832.3 L806.8,830.0 L820.5,832.5 L834.3,832.5 L848.1,832.5 L861.8,832.5 L875.6,832.5 L889.4,832.5 L903.1,832.5 L916.9,832.5 L930.7,832.5 L944.5,798.6 L958.2,827.0 L972.0,840.0 L985.8,779.5 L999.5,825.7 L1013.3,767.3 L1027.1,767.3 L1040.9,775.7 L1054.6,811.3 L1068.4,815.1 L1082.2,804.3 L1095.9,799.4 L1109.7,807.2 L1123.5,794.2 L1137.2,806.3 L1151.0,813.1 L1164.8,821.5 L1178.6,815.5 L1192.3,831.0 L1206.1,831.0 L1219.9,821.5 L1233.6,831.6 L1247.4,831.6 L1261.2,831.6 L1275.0,832.3 L1288.7,832.9 L1302.5,826.7 L1316.3,831.4 L1330.0,831.6 L1343.8,827.4 L1357.6,831.6 L1371.3,832.9 L1385.1,821.1 L1398.9,828.7 L1412.7,830.3 L1426.4,830.3 L1440.2,830.3 L1454.0,831.5 L1467.7,803.4 L1481.5,820.1 L1495.3,820.1 L1509.0,820.1 L1522.8,831.0 L1536.6,831.0 L1550.4,777.5 L1564.1,745.3 L1577.9,781.5 L1591.7,831.6 L1605.4,813.1 L1619.2,820.1 L1633.0,831.0 L1646.8,823.4 L1660.5,759.4 L1674.3,774.3 L1688.1,820.1 L1701.8,831.6 L1715.6,831.6 L1729.4,831.6 L1743.1,831.6 L1756.9,832.3 L1770.7,831.6 L1784.5,822.6 L1798.2,756.4 L1812.0,773.5 L1825.8,755.5 L1839.5,746.2 L1853.3,803.4 L1880.9,819.2 L1894.6,828.7 L1908.4,828.7 L1922.2,831.4 L1935.9,829.2 L1949.7,831.6 L1963.5,830.3 L1977.2,827.1 L1991.0,771.3 L2004.8,819.2 L2018.6,829.2 L2032.3,829.6 L2046.1,830.3 L2059.9,831.0 L2073.6,831.0 L2087.4,831.6 L2101.2,831.6 L2115.0,831.2 L2128.7,831.9 L2142.5,833.2 L2156.3,831.9 L2170.0,831.9 L2183.8,831.4 L2197.6,831.9 L2211.3,831.9 L2225.1,833.6 L2238.9,833.6 L2252.7,832.3 L2266.4,830.3 L2280.2,827.9 L2294.0,832.3 L2307.7,831.9 L2321.5,831.9 L2335.3,831.9 L2349.0,833.2 L2362.8,831.9 L2376.6,833.2 L2390.4,831.4 L2404.1,830.3 L2417.9,831.9 L2431.7,831.4 L2445.4,831.4 L2459.2,830.2 L2473.0,831.4 L2486.8,833.1 L2500.5,831.4 L2514.3,829.2 L2528.1,831.4 L2541.8,831.4 L2555.6,832.2 L2569.4,832.2 L2583.1,832.2 L2596.9,832.2 L2610.7,833.1 L2624.5,832.2 L2638.2,832.2" fill="none" stroke="#ff0000" stroke-width="4.1667" stroke-linejoin="round" stroke-linecap="square"/>
<line x1="131.0" y1="377" x2="2651.0" y2="377" stroke="#dcdcdc" stroke-width="4.1667" stroke-dasharray="4.1667,6.8751"/>
</g>
<rect x="131.0" y="63.0" width="2520.0" height="770.0" fill="none" stroke="#000" stroke-width="2.22" stroke-linejoin="miter"/>
<line x1="121.00" y1="833" x2="131.0" y2="833" stroke="#000" stroke-width="2.22"/><text x="94.33" y="843.10" font-size="30.0" textLength="17.67" lengthAdjust="spacingAndGlyphs">0</text>
<line x1="121.00" y1="704" x2="131.0" y2="704" stroke="#000" stroke-width="2.22"/><text x="76.65" y="714.77" font-size="30.0" textLength="35.35" lengthAdjust="spacingAndGlyphs">20</text>
<line x1="121.00" y1="576" x2="131.0" y2="576" stroke="#000" stroke-width="2.22"/><text x="76.65" y="586.43" font-size="30.0" textLength="35.35" lengthAdjust="spacingAndGlyphs">40</text>
<line x1="121.00" y1="448" x2="131.0" y2="448" stroke="#000" stroke-width="2.22"/><text x="76.65" y="458.10" font-size="30.0" textLength="35.35" lengthAdjust="spacingAndGlyphs">60</text>
<line x1="121.00" y1="319" x2="131.0" y2="319" stroke="#000" stroke-width="2.22"/><text x="76.65" y="329.77" font-size="30.0" textLength="35.35" lengthAdjust="spacingAndGlyphs">80</text>
<line x1="121.00" y1="191" x2="131.0" y2="191" stroke="#000" stroke-width="2.22"/><text x="58.98" y="201.43" font-size="30.0" textLength="53.02" lengthAdjust="spacingAndGlyphs">100</text>
<line x1="121.00" y1="63" x2="131.0" y2="63" stroke="#000" stroke-width="2.22"/><text x="58.98" y="73.10" font-size="30.0" textLength="53.02" lengthAdjust="spacingAndGlyphs">120</text>
<line x1="131.00" y1="833.0" x2="131.00" y2="843.00" stroke="#000" stroke-width="2.22"/><text x="84.88" y="873.80" font-size="30.0" textLength="48.06" lengthAdjust="spacingAndGlyphs">Apr</text><text x="141.77" y="873.80" font-size="30.0" textLength="35.35" lengthAdjust="spacingAndGlyphs">01</text>
<line x1="324.00" y1="833.0" x2="324.00" y2="843.00" stroke="#000" stroke-width="2.22"/><text x="277.67" y="873.80" font-size="30.0" textLength="48.06" lengthAdjust="spacingAndGlyphs">Apr</text><text x="334.56" y="873.80" font-size="30.0" textLength="35.35" lengthAdjust="spacingAndGlyphs">15</text>
<line x1="545.00" y1="833.0" x2="545.00" y2="843.00" stroke="#000" stroke-width="2.22"/><text x="493.31" y="873.80" font-size="30.0" textLength="57.43" lengthAdjust="spacingAndGlyphs">May</text><text x="559.57" y="873.80" font-size="30.0" textLength="35.35" lengthAdjust="spacingAndGlyphs">01</text>
<line x1="737.00" y1="833.0" x2="737.00" y2="843.00" stroke="#000" stroke-width="2.22"/><text x="686.10" y="873.80" font-size="30.0" textLength="57.43" lengthAdjust="spacingAndGlyphs">May</text><text x="752.36" y="873.80" font-size="30.0" textLength="35.35" lengthAdjust="spacingAndGlyphs">15</text>
<line x1="971.00" y1="833.0" x2="971.00" y2="843.00" stroke="#000" stroke-width="2.22"/><text x="927.21" y="873.80" font-size="30.0" textLength="43.41" lengthAdjust="spacingAndGlyphs">Jun</text><text x="979.44" y="873.80" font-size="30.0" textLength="35.35" lengthAdjust="spacingAndGlyphs">01</text>
<line x1="1164.00" y1="833.0" x2="1164.00" y2="843.00" stroke="#000" stroke-width="2.22"/><text x="1119.99" y="873.80" font-size="30.0" textLength="43.41" lengthAdjust="spacingAndGlyphs">Jun</text><text x="1172.23" y="873.80" font-size="30.0" textLength="35.35" lengthAdjust="spacingAndGlyphs">15</text>
<line x1="1385.00" y1="833.0" x2="1385.00" y2="843.00" stroke="#000" stroke-width="2.22"/><text x="1345.27" y="873.80" font-size="30.0" textLength="33.52" lengthAdjust="spacingAndGlyphs">Jul</text><text x="1387.61" y="873.80" font-size="30.0" textLength="35.35" lengthAdjust="spacingAndGlyphs">01</text>
<line x1="1577.00" y1="833.0" x2="1577.00" y2="843.00" stroke="#000" stroke-width="2.22"/><text x="1538.05" y="873.80" font-size="30.0" textLength="33.52" lengthAdjust="spacingAndGlyphs">Jul</text><text x="1580.40" y="873.80" font-size="30.0" textLength="35.35" lengthAdjust="spacingAndGlyphs">15</text>
<line x1="1811.00" y1="833.0" x2="1811.00" y2="843.00" stroke="#000" stroke-width="2.22"/><text x="1761.79" y="873.80" font-size="30.0" textLength="54.24" lengthAdjust="spacingAndGlyphs">Aug</text><text x="1824.86" y="873.80" font-size="30.0" textLength="35.35" lengthAdjust="spacingAndGlyphs">01</text>
<line x1="2004.00" y1="833.0" x2="2004.00" y2="843.00" stroke="#000" stroke-width="2.22"/><text x="1954.57" y="873.80" font-size="30.0" textLength="54.24" lengthAdjust="spacingAndGlyphs">Aug</text><text x="2017.65" y="873.80" font-size="30.0" textLength="35.35" lengthAdjust="spacingAndGlyphs">15</text>
<line x1="2238.00" y1="833.0" x2="2238.00" y2="843.00" stroke="#000" stroke-width="2.22"/><text x="2189.62" y="873.80" font-size="30.0" textLength="52.36" lengthAdjust="spacingAndGlyphs">Sep</text><text x="2250.81" y="873.80" font-size="30.0" textLength="35.35" lengthAdjust="spacingAndGlyphs">01</text>
<line x1="2431.00" y1="833.0" x2="2431.00" y2="843.00" stroke="#000" stroke-width="2.22"/><text x="2382.40" y="873.80" font-size="30.0" textLength="52.36" lengthAdjust="spacingAndGlyphs">Sep</text><text x="2443.59" y="873.80" font-size="30.0" textLength="35.35" lengthAdjust="spacingAndGlyphs">15</text>
<line x1="2651.00" y1="833.0" x2="2651.00" y2="843.00" stroke="#000" stroke-width="2.22"/><text x="2604.89" y="873.80" font-size="30.0" textLength="48.03" lengthAdjust="spacingAndGlyphs">Oct</text><text x="2661.76" y="873.80" font-size="30.0" textLength="35.35" lengthAdjust="spacingAndGlyphs">01</text>
<g transform="translate(41.1,555.5) rotate(-90)"><text x="0.00" y="0.00" font-size="30.0" textLength="81.55" lengthAdjust="spacingAndGlyphs">MDA8</text><text x="90.38" y="0.00" font-size="30.0" textLength="39.54" lengthAdjust="spacingAndGlyphs">O3</text><text x="138.75" y="0.00" font-size="30.0" textLength="74.58" lengthAdjust="spacingAndGlyphs">(ppb)</text>
</g>
<rect x="145.55" y="76.5" width="381" height="176" rx="5.6" ry="5.6" fill="#ffffff" fill-opacity="0.8" stroke="#d6d6d6" stroke-width="2.6"/>
<line x1="155.9" y1="100.0" x2="211.5" y2="100.0" stroke="#000000" stroke-width="4.1667" stroke-linecap="square"/><text x="233.80" y="109.80" font-size="30.0" textLength="133.65" lengthAdjust="spacingAndGlyphs">Observed</text>
<line x1="155.9" y1="141.95" x2="211.5" y2="141.95" stroke="#0000ff" stroke-width="4.1667" stroke-linecap="square"/><text x="233.80" y="152.00" font-size="30.0" textLength="118.13" lengthAdjust="spacingAndGlyphs">Modeled</text><text x="360.76" y="152.00" font-size="30.0" textLength="153.18" lengthAdjust="spacingAndGlyphs">(Basecase)</text>
<line x1="155.9" y1="183.95" x2="211.5" y2="183.95" stroke="#ff0000" stroke-width="4.1667" stroke-linecap="square"/><text x="233.80" y="193.10" font-size="30.0" textLength="49.58" lengthAdjust="spacingAndGlyphs">Fire</text><text x="292.21" y="193.10" font-size="30.0" textLength="110.55" lengthAdjust="spacingAndGlyphs">Impacts</text>
<line x1="155.9" y1="225.9" x2="211.5" y2="225.9" stroke="#dcdcdc" stroke-width="4.1667" stroke-dasharray="4.1667,6.8751"/><text x="233.80" y="235.00" font-size="30.0" textLength="35.35" lengthAdjust="spacingAndGlyphs">71</text><text x="277.98" y="235.00" font-size="30.0" textLength="52.90" lengthAdjust="spacingAndGlyphs">ppb</text>
</svg>
</body></html>
